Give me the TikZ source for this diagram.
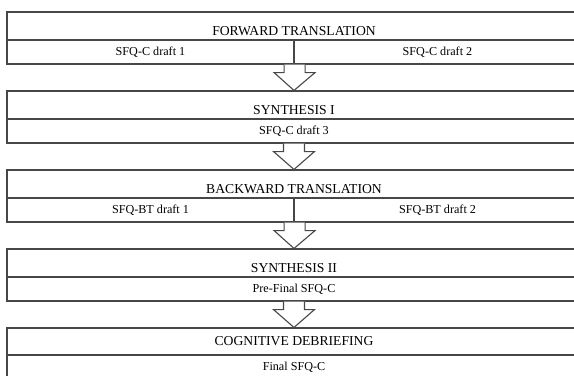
\documentclass[tikz,border=0pt]{standalone}
\usepackage{fontspec}
\setmainfont{Liberation Serif}
\usetikzlibrary{calc}
\begin{document}
\begin{tikzpicture}[x=1bp,y=-1bp,
  frame/.style={draw=black!72, line width=1.1bp},
  hdrbase/.style={frame, rectangle, inner sep=0pt, minimum width=574bp, minimum height=28bp,
    font=\fontsize{13.7}{15}\selectfont},
  hdr/.style={hdrbase, text height=18bp, text depth=0pt},
  hdrc/.style={hdrbase, minimum height=27bp},
  subfull/.style={frame, rectangle, inner sep=0pt, minimum width=574bp, minimum height=24bp,
    font=\fontsize{12.2}{14}\selectfont},
  subhalf/.style={frame, rectangle, inner sep=0pt, minimum width=287bp, minimum height=24bp,
    font=\fontsize{12.2}{14}\selectfont},
  blockarrow/.style={draw=black!72, line width=1.1bp, fill=white, line join=miter}]
\useasboundingbox (0,0) rectangle (574,375);
\newcommand\blockarr[2]{%
  \draw[blockarrow] ($(#1)+(-10.5,0)$) -- ($(#1)+(-10.5,8)$) -- ($(#1)+(-20.5,8)$)
    -- (#2) -- ($(#1)+(20.5,8)$) -- ($(#1)+(10.5,8)$) -- ($(#1)+(10.5,0)$);}
% box 1
\node[hdr] (h1) at (294,26) {FORWARD TRANSLATION};
\node[subhalf] (s1a) at (150.5,52) {SFQ-C draft 1};
\node[subhalf] (s1b) at (437.5,52) {SFQ-C draft 2};
% box 2
\node[hdr] (h2) at (294,105) {SYNTHESIS I};
\node[subfull] (s2) at (294,131) {SFQ-C draft 3};
% box 3
\node[hdr] (h3) at (294,184) {BACKWARD TRANSLATION};
\node[subhalf] (s3a) at (150.5,210) {SFQ-BT draft 1};
\node[subhalf] (s3b) at (437.5,210) {SFQ-BT draft 2};
% box 4
\node[hdr] (h4) at (294,263) {SYNTHESIS II};
\node[subfull] (s4) at (294,289) {Pre-Final SFQ-C};
% box 5
\node[hdrc] (h5) at (294,341.5) {COGNITIVE DEBRIEFING};
\node[subfull] (s5) at (294,367) {Final SFQ-C};
% block arrows
\blockarr{s1a.south east}{h2.north}
\blockarr{s2.south}{h3.north}
\blockarr{s3a.south east}{h4.north}
\blockarr{s4.south}{h5.north}
\end{tikzpicture}
\end{document}
